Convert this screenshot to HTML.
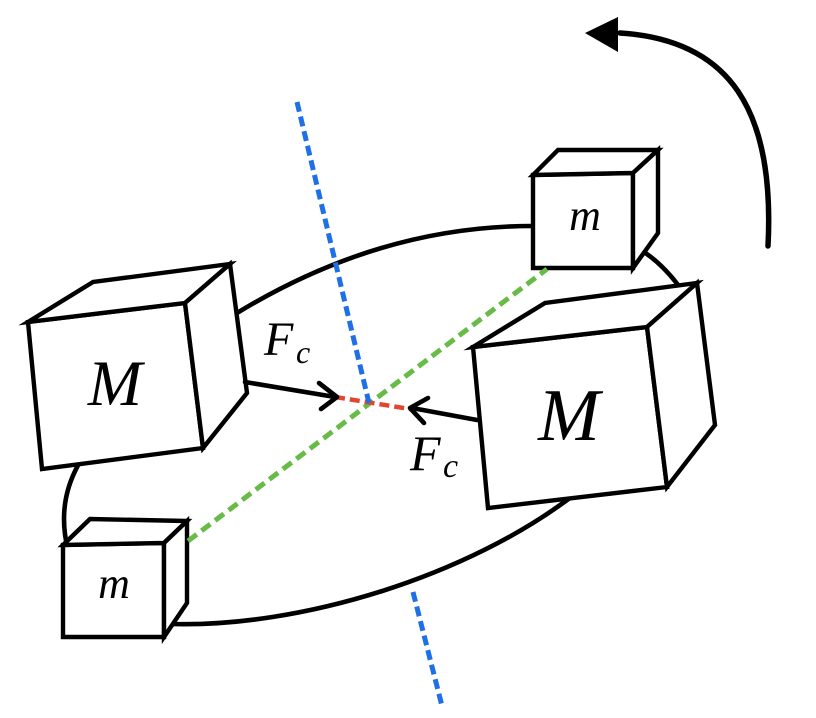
<!DOCTYPE html>
<html>
<head>
<meta charset="utf-8">
<style>
html,body{margin:0;padding:0;background:#fff;width:816px;height:718px;overflow:hidden}
svg{display:block}
text{font-family:"Liberation Serif",serif;font-style:italic;fill:#000}
</style>
</head>
<body>
<svg width="816" height="718" viewBox="0 0 816 718" xmlns="http://www.w3.org/2000/svg">
  <!-- ellipse (visible segments) -->
  <g fill="none" stroke="#000" stroke-width="4.6" stroke-linecap="round" stroke-linejoin="round">
    <path d="M225,320 L237,313 Q380,226 532,226 L552,226"/>
    <path d="M636,247 Q668,265 692,306"/>
    <path d="M575,494 C469,576 300,628 170,624"/>
    <path d="M84,455 C68,480 58,510 68,550"/>
  </g>

  <!-- boxes -->
  <g fill="#fff" stroke="#000" stroke-width="4.4" stroke-linejoin="miter" stroke-miterlimit="10">
    <!-- left M -->
    <polygon points="28,322 185,303 203,448 42,469"/>
    <polygon points="28,322 93,282 230,264 185,303"/>
    <polygon points="185,303 230,264 247,393 203,448"/>
    <!-- right M -->
    <polygon points="473,347 647,327 667,487 488,508"/>
    <polygon points="473,347 545,303 697,283 647,327"/>
    <polygon points="647,327 697,283 715,425 667,487"/>
    <!-- top m -->
    <polygon points="533,175 633,173 633,268 533,268"/>
    <polygon points="533,175 558,150 658,150 633,173"/>
    <polygon points="633,173 658,150 658,233 633,268"/>
    <!-- bottom m -->
    <polygon points="63,545 164,543 164,637 63,637"/>
    <polygon points="63,545 90,519 187,521 164,543"/>
    <polygon points="164,543 187,521 187,603 164,637"/>
  </g>

  <!-- dashed lines -->
  <g fill="none" stroke-linecap="butt">
    <path d="M188,541 L547,269" stroke="#67bb46" stroke-width="5" stroke-dasharray="11 6"/>
    <path d="M335,397 L410,409" stroke="#e3452f" stroke-width="4.5" stroke-dasharray="10 5"/>
    <path d="M297,102 L369,403" stroke="#1f6fe5" stroke-width="5" stroke-dasharray="10 5"/>
    <path d="M413,592 L442,706" stroke="#1f6fe5" stroke-width="5" stroke-dasharray="10 5"/>
  </g>

  <!-- force arrows -->
  <g fill="none" stroke="#000" stroke-width="4.6" stroke-linecap="round" stroke-linejoin="round">
    <path d="M245,382 L335,397"/>
    <path d="M319,383 L337,397 L321,409"/>
    <path d="M477,420 L412,408"/>
    <path d="M428,398 L410,408 L424,423"/>
  </g>

  <!-- rotation arrow -->
  <path d="M768,246 C775,110 730,40 620,33" fill="none" stroke="#000" stroke-width="5.5" stroke-linecap="round"/>
  <polygon points="585,33 618,17 618,52" fill="#000"/>

  <!-- labels -->
  <text x="115" y="405" font-size="65" text-anchor="middle">M</text>
  <text x="569" y="440" font-size="74" text-anchor="middle">M</text>
  <text x="585" y="230" font-size="44" text-anchor="middle">m</text>
  <text x="114" y="598" font-size="44" text-anchor="middle">m</text>
  <text x="264" y="355" font-size="48">F</text>
  <text x="296" y="363" font-size="32">c</text>
  <text x="410" y="470" font-size="50">F</text>
  <text x="443" y="477" font-size="34">c</text>
</svg>
</body>
</html>
